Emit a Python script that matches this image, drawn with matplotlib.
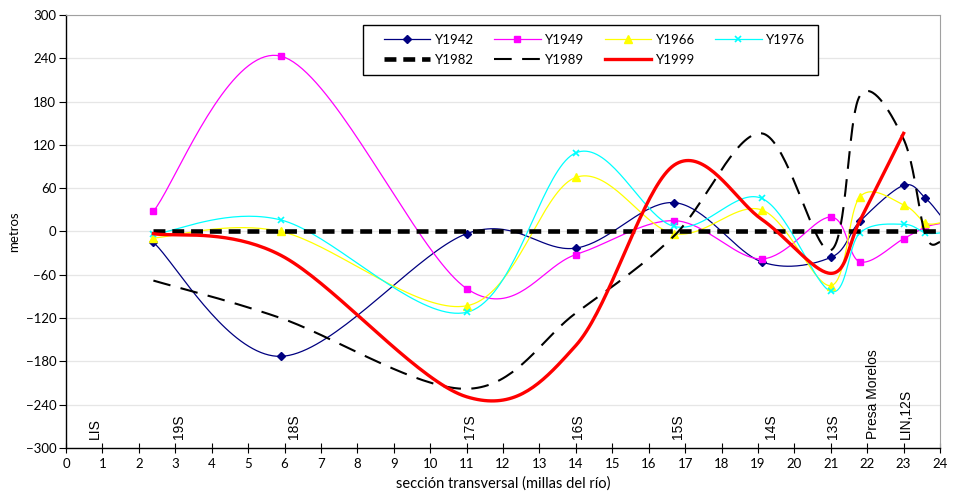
import numpy as np
import matplotlib
matplotlib.use("Agg")
import matplotlib.pyplot as plt
from matplotlib import font_manager as fm
from matplotlib.patches import Rectangle

# ---------------- data ----------------
x_sec = [2.4, 5.9, 11.0, 14.0, 16.7, 19.1, 21.0, 21.8, 23.0, 23.6, 24.0]
y1942 = [-15, -173, -3, -23, 40, -42, -36, 14, 64, 46, 23]
y1949 = [28, 243, -79, -32, 15, -38, 20, -42, -10, 6, 11]
y1966 = [-9, 0, -103, 75, -3, 30, -75, 48, 37, 12, 12]
y1976 = [-4, 16, -112, 109, 7, 46, -83, -2, 10, -2, -2]
x1982 = [2.4, 24.0]
y1982 = [0, 0]
x1989 = [2.4, 5.9, 11.0, 14.0, 16.7, 19.1, 21.0, 21.8, 23.0, 23.6, 24.0]
y1989 = [-68, -120, -218, -113, -6, 136, -26, 188, 128, -5, -15]
x1999 = [2.4, 5.9, 11.0, 14.0, 16.7, 19.1, 21.0, 21.8, 23.0]
y1999 = [-3, -33, -229, -158, 92, 17, -58, 15, 136]

sec_labels = ["LIS", "19S", "18S", "17S", "16S", "15S", "14S", "13S", "Presa Morelos", "LIN,12S"]
sec_pos = [0.8, 3.1, 6.25, 11.1, 14.05, 16.8, 19.35, 21.05, 22.15, 23.05]

x_ticks = list(range(0, 25))
y_ticks = list(range(-300, 301, 60))


def excel_smooth(xs, ys, n=40):
    P = np.column_stack([xs, ys]).astype(float)
    m = len(P)
    if m < 3:
        return P[:, 0], P[:, 1]
    ext = np.vstack([P[0], P, P[-1]])
    out = []
    t = np.linspace(0, 1, n)[:, None]
    for i in range(m - 1):
        p0, p1, p2, p3 = ext[i], ext[i + 1], ext[i + 2], ext[i + 3]
        c1 = p1 + (p2 - p0) / 6.0
        c2 = p2 - (p3 - p1) / 6.0
        seg = ((1 - t) ** 3) * p1 + 3 * ((1 - t) ** 2) * t * c1 + 3 * (1 - t) * t ** 2 * c2 + t ** 3 * p2
        out.append(seg if i == 0 else seg[1:])
    out = np.vstack(out)
    return out[:, 0], out[:, 1]


avail = {f.name for f in fm.fontManager.ttflist}
lab_font = "Lato" if "Lato" in avail else "DejaVu Sans"
tick_font = lab_font

fig = plt.figure(figsize=(9.6, 4.92), dpi=100)
ax = fig.add_axes([66 / 960, 1 - 448 / 492, (940 - 66) / 960, (448 - 15) / 492])

ax.set_xlim(0, 24)
ax.set_ylim(-300, 300)
ax.set_xticks(x_ticks)
ax.set_yticks(y_ticks)
ax.grid(axis="y", color="#e6e6e6", lw=0.9)
ax.set_axisbelow(True)

for sp in ["top", "right"]:
    ax.spines[sp].set_color("#a0a0a0")
for sp in ["left", "bottom"]:
    ax.spines[sp].set_color("black")
    ax.spines[sp].set_linewidth(1.0)

ax.tick_params(axis="y", direction="out", length=5, width=0.8, labelsize=9.5, pad=2)
ax.tick_params(axis="x", direction="inout", length=7, width=0.8, labelsize=9.5, pad=4)
for lbl in ax.get_xticklabels() + ax.get_yticklabels():
    lbl.set_fontfamily(tick_font)

series = [
    ("Y1942", x_sec, y1942, dict(color="#000080", lw=0.9, marker="D", ms=3.6)),
    ("Y1949", x_sec, y1949, dict(color="#ff00ff", lw=0.9, marker="s", ms=5)),
    ("Y1966", x_sec, y1966, dict(color="#ffff00", lw=0.9, marker="^", ms=6)),
    ("Y1976", x_sec, y1976, dict(color="#00ffff", lw=0.9, marker="x", ms=5, mew=1.2)),
]
handles = []
for name, xs, ys, st in series:
    sx, sy = excel_smooth(xs, ys)
    ax.plot(sx, sy, color=st["color"], lw=st["lw"], zorder=3)
    vis = [i for i, xv in enumerate(xs) if xv < 24]
    ax.plot(xs, ys, ls="none", marker=st["marker"], ms=st["ms"], color=st["color"],
            mew=st.get("mew", 1), zorder=4, markevery=vis)
    h, = ax.plot([], [], color=st["color"], lw=st["lw"], marker=st["marker"], ms=st["ms"],
                 mew=st.get("mew", 1))
    handles.append(h)

h82, = ax.plot(x1982, y1982, color="black", lw=3.3, ls=(0, (2.6, 1.5)), zorder=5)
sx, sy = excel_smooth(x1989, y1989)
h89, = ax.plot(sx, sy, color="black", lw=1.5, ls=(0, (8.5, 5)), zorder=5)
sx, sy = excel_smooth(x1999, y1999)
h99, = ax.plot(sx, sy, color="#ff0000", lw=2.4, zorder=6)

names = ["Y1942", "Y1949", "Y1966", "Y1976", "Y1982", "Y1989", "Y1999"]
order = handles + [h82, h89, h99]
blank, = ax.plot([], [], color="none")
grid_h = [order[0], order[4], order[1], order[5], order[2], order[6], order[3], blank]
grid_n = [names[0], names[4], names[1], names[5], names[2], names[6], names[3], ""]

# legend frame
bx0, bx1, by0, by1 = 363, 818, 25, 75
def to_ax(px, py):
    return (px - 66) / 874, (448 - py) / 433
fx0, fy1 = to_ax(bx0, by0)
fx1, fy0 = to_ax(bx1, by1)
ax.add_patch(Rectangle((fx0, fy0), fx1 - fx0, fy1 - fy0, transform=ax.transAxes,
                       facecolor="white", edgecolor="black", lw=1.0, zorder=9))
lx, ly = to_ax(384, 50)
leg = ax.legend(grid_h, grid_n, ncol=4, loc="center left", bbox_to_anchor=(lx, ly),
                frameon=False, handlelength=3.5, handletextpad=0.35, borderpad=0,
                labelspacing=0.62, columnspacing=1.55,
                prop={"family": lab_font, "size": 9.5}, borderaxespad=0)
leg.set_zorder(10)

for lab, xp in zip(sec_labels, sec_pos):
    ax.text(xp, -287, lab, rotation=90, ha="center", va="bottom",
            fontsize=10, family="Liberation Sans", zorder=7)

ax.set_xlabel("sección transversal (millas del río)", fontsize=10.5, family=lab_font, labelpad=4)
ax.set_ylabel("metros", fontsize=9.5, family=lab_font)
ax.yaxis.set_label_coords((20 - 66) / 874, 0.5)

fig.savefig("out.png", dpi=100)
